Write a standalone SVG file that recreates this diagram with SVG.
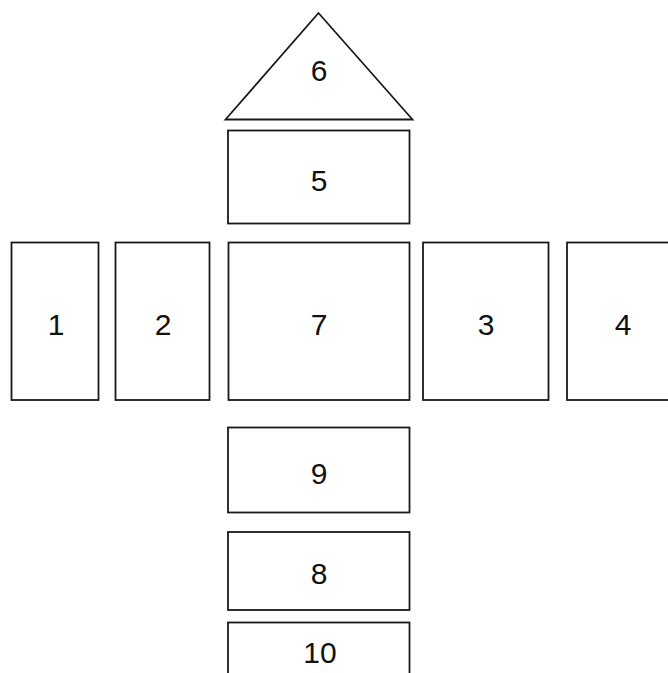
<svg xmlns="http://www.w3.org/2000/svg" width="668" height="673" viewBox="0 0 668 673">
<style>
.s{fill:#fff;stroke:#1a1a1a;stroke-width:1.8}
.t{font-family:"Liberation Sans",Arial,sans-serif;font-size:30px;fill:#111;text-anchor:middle}
</style>
<rect width="668" height="673" fill="#fff"/>
<g id="n6"><polygon class="s" points="318.5,13 225.5,119.5 412.5,119.5"/><text class="t" x="319" y="81">6</text></g>
<g id="n5"><rect class="s" x="228" y="130.5" width="181.5" height="93"/><text class="t" x="319" y="191">5</text></g>
<g id="n1"><rect class="s" x="11.5" y="242.5" width="87" height="157.5"/><text class="t" x="56" y="334.5">1</text></g>
<g id="n2"><rect class="s" x="115.5" y="242.5" width="94" height="157.5"/><text class="t" x="163" y="334.5">2</text></g>
<g id="n7"><rect class="s" x="228.5" y="242.5" width="181" height="157.5"/><text class="t" x="319" y="334.5">7</text></g>
<g id="n3"><rect class="s" x="423" y="242.5" width="125.5" height="157.5"/><text class="t" x="486" y="334.5">3</text></g>
<g id="n4"><rect class="s" x="567" y="242.5" width="110" height="157.5"/><text class="t" x="623" y="334.5">4</text></g>
<g id="n9"><rect class="s" x="228" y="427.5" width="181.5" height="85"/><text class="t" x="319" y="484">9</text></g>
<g id="n8"><rect class="s" x="228" y="532" width="181.5" height="78"/><text class="t" x="319" y="584">8</text></g>
<g id="n10"><rect class="s" x="228" y="622.5" width="181.5" height="60"/><text class="t" x="320" y="662.5">10</text></g>
<g id="connectors"></g>
</svg>
